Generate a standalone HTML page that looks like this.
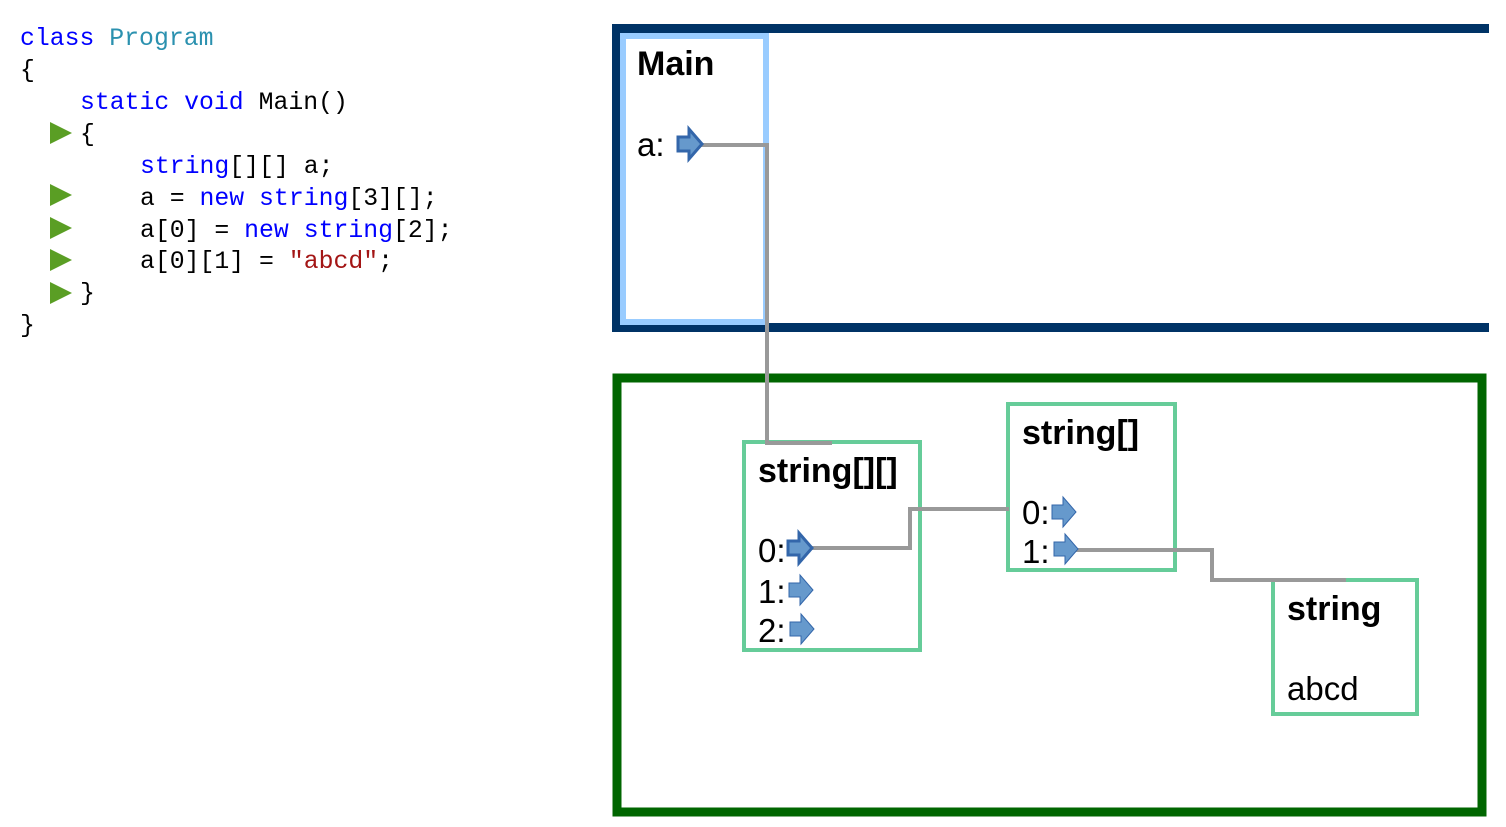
<!DOCTYPE html>
<html><head><meta charset="utf-8"><style>
html,body{margin:0;padding:0;background:#fff;}
body{width:1506px;height:827px;overflow:hidden;position:relative;}
svg{position:absolute;left:0;top:0;}
.c{font-family:"Liberation Mono",monospace;font-size:24.8px;}
.h{font-family:"Liberation Sans",sans-serif;font-weight:bold;font-size:34px;}
.t{font-family:"Liberation Sans",sans-serif;font-size:33px;}
</style></head><body>
<svg width="1506" height="827" viewBox="0 0 1506 827">
<defs>
<path id="ar" d="M0,-7 L11,-7 L11,-15 L24,0 L11,15 L11,7 L0,7 Z"/>
</defs>
<g class="c">
<text x="20" y="45"><tspan fill="#0000ff">class</tspan> <tspan fill="#2b91af">Program</tspan></text>
<text x="20" y="77">{</text>
<text x="80" y="109"><tspan fill="#0000ff">static void</tspan> Main()</text>
<text x="80" y="141">{</text>
<text x="140" y="173"><tspan fill="#0000ff">string</tspan>[][] a;</text>
<text x="140" y="205">a = <tspan fill="#0000ff">new string</tspan>[3][];</text>
<text x="140" y="237">a[0] = <tspan fill="#0000ff">new string</tspan>[2];</text>
<text x="140" y="268">a[0][1] = <tspan fill="#a31515">"abcd"</tspan>;</text>
<text x="80" y="300">}</text>
<text x="20" y="332">}</text>
</g>
<g fill="#5a9e24">
<polygon points="50,122 72,133 50,144"/>
<polygon points="50,184 72,195 50,206"/>
<polygon points="50,217 72,228 50,239"/>
<polygon points="50,249 72,260 50,271"/>
<polygon points="50,282 72,293 50,304"/>
</g>
<g stroke="#003366" stroke-width="9" fill="none">
<polyline points="1489,28.5 616.5,28.5 616.5,327.5 1489,327.5"/>
</g>
<rect x="623" y="36" width="143" height="286" fill="none" stroke="#99ccff" stroke-width="6"/>
<rect x="617" y="378" width="865" height="434" fill="none" stroke="#006600" stroke-width="9"/>
<g fill="none" stroke="#66cc99" stroke-width="4">
<rect x="744" y="442" width="176" height="208"/>
<rect x="1008" y="404" width="167" height="166"/>
<rect x="1273" y="580" width="144" height="134"/>
</g>
<g fill="none" stroke="#999" stroke-width="4">
<polyline points="700,145 767,145 767,443 832,443"/>
<polyline points="810,548 910,548 910,509 1009,509"/>
<polyline points="1075,550 1212,550 1212,580 1346,580"/>
</g>
<text class="h" x="637" y="75">Main</text>
<text class="t" x="637" y="156">a:</text>
<text class="h" x="758" y="482">string[][]</text>
<text class="t" x="758" y="562">0:</text>
<text class="t" x="758" y="603">1:</text>
<text class="t" x="758" y="642">2:</text>
<text class="h" x="1022" y="444">string[]</text>
<text class="t" x="1022" y="524">0:</text>
<text class="t" x="1022" y="563">1:</text>
<text class="h" x="1287" y="620">string</text>
<text class="t" x="1287" y="700">abcd</text>
<g fill="#6699cc" stroke="#3366aa">
<use href="#ar" x="678" y="144" stroke-width="3"/>
<use href="#ar" x="788" y="548" stroke-width="3"/>
<use href="#ar" x="789" y="590" stroke-width="1"/>
<use href="#ar" x="790" y="629" stroke-width="1"/>
<use href="#ar" x="1052" y="512" stroke-width="1"/>
<use href="#ar" x="1054" y="549" stroke-width="1"/>
</g>
</svg>
</body></html>
